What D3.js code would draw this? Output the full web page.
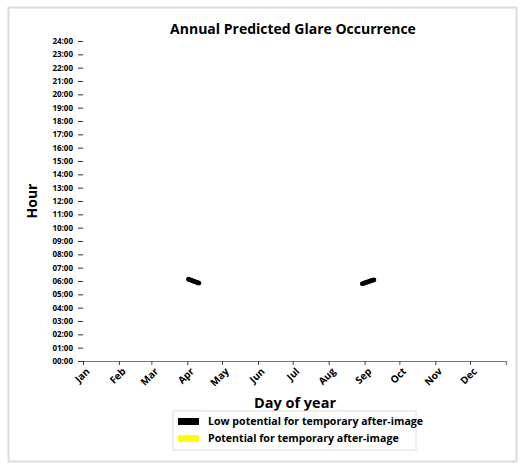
<!DOCTYPE html>
<html>
<head>
<meta charset="utf-8">
<script src="https://cdn.jsdelivr.net/npm/d3@7"></script>
<style>
  body { margin: 0; background: #fff; }
  text { font-family: "Open Sans", sans-serif; }
</style>
</head>
<body>
<div id="chart"></div>
<script>
// month tick labels and the day of year each month starts on
var months = ["Jan", "Feb", "Mar", "Apr", "May", "Jun", "Jul", "Aug", "Sep", "Oct", "Nov", "Dec"];
var monthStartDay = [0, 31, 59, 90, 120, 151, 181, 212, 243, 273, 304, 334];

// hours shown on the y axis
var hourTicks = d3.range(0, 25);

// glare occurrences (day of year, hour)
var lowDays = [91, 92, 93, 94, 95, 96, 97, 98, 99, 100,
               241, 242, 243, 244, 245, 246, 247, 248, 249, 250, 251];
var lowHours = [6.13, 6.10, 6.07, 6.03, 6.00, 5.97, 5.93, 5.90, 5.87, 5.84,
                5.79, 5.82, 5.85, 5.88, 5.91, 5.94, 5.97, 6.00, 6.03, 6.05, 6.08];
var highDays = [];
var highHours = [];

var legendLabels = ["Low potential for temporary after-image", "Potential for temporary after-image"];
var legendColors = ["#000000", "#ffff00"];

var W = 521, H = 466;
var margin = {top: 41, right: 15, bottom: 105, left: 83},
    width = 506 - margin.left,
    height = 361 - margin.top;

var root = d3.select("#chart")
    .append("svg")
    .attr("width", W)
    .attr("height", H);

// figure frame
root.append("rect")
    .attr("x", 8.5).attr("y", 7.5)
    .attr("width", 508).attr("height", 454)
    .attr("fill", "#fff")
    .attr("stroke", "#dcdcdc")
    .attr("stroke-width", 2);

var svg = root.append("g")
    .attr("transform", "translate(" + margin.left + "," + margin.top + ")");

// title
svg.append("text")
    .attr("x", 210)
    .attr("y", 34 - margin.top)
    .attr("text-anchor", "middle")
    .style("font-size", "14px")
    .style("font-weight", "bold")
    .text("Annual Predicted Glare Occurrence");

var x = d3.scaleLinear()
    .domain([0, 365])
    .range([0, width]);

var y = d3.scaleLinear()
    .domain([0, 24])
    .range([height, 0]);

// X axis
var xAxis = svg.append("g")
    .attr("transform", "translate(0," + height + ")")
    .call(d3.axisBottom(x)
        .tickValues(monthStartDay)
        .tickSize(4)
        .tickFormat(function(d, i) { return months[i]; }));
xAxis.select(".domain").attr("stroke", "#777").attr("stroke-width", 1.2);
xAxis.selectAll(".tick line").attr("stroke", "#444");
xAxis.selectAll("text")
    .attr("x", 0).attr("y", 0).attr("dy", 0)
    .attr("transform", "translate(7,11)rotate(-45)")
    .style("text-anchor", "end")
    .style("font-size", "10px")
    .style("font-weight", "bold")
    .attr("fill", "#000");

// Y axis
var yAxis = svg.append("g")
    .call(d3.axisLeft(y)
        .tickValues(hourTicks)
        .tickSize(5)
        .tickPadding(5)
        .tickFormat(function(d) { return d3.format("02d")(d) + ":00"; }));
yAxis.select(".domain").remove();
yAxis.selectAll(".tick line").attr("stroke", "#333");
yAxis.selectAll("text")
    .style("font-size", "8px")
    .style("font-weight", "bold")
    .attr("fill", "#000");

// axis titles
svg.append("text")
    .attr("transform", "rotate(-90)")
    .attr("x", -height / 2)
    .attr("y", 37 - margin.left)
    .attr("text-anchor", "middle")
    .style("font-size", "14px")
    .style("font-weight", "bold")
    .text("Hour");

svg.append("text")
    .attr("x", 212)
    .attr("y", 408 - margin.top)
    .attr("text-anchor", "middle")
    .style("font-size", "14.5px")
    .style("font-weight", "bold")
    .text("Day of year");

// glare points
svg.append("g")
    .selectAll("circle.low")
    .data(lowDays)
    .enter()
    .append("circle")
    .attr("cx", function(d) { return x(d); })
    .attr("cy", function(d, i) { return y(lowHours[i]); })
    .attr("r", 2.4)
    .attr("fill", legendColors[0]);

svg.append("g")
    .selectAll("circle.high")
    .data(highDays)
    .enter()
    .append("circle")
    .attr("cx", function(d) { return x(d); })
    .attr("cy", function(d, i) { return y(highHours[i]); })
    .attr("r", 2.4)
    .attr("fill", legendColors[1]);

// legend
var legend = root.append("g")
    .attr("transform", "translate(173,411)");
legend.append("rect")
    .attr("width", 243).attr("height", 39)
    .attr("fill", "#fff")
    .attr("stroke", "#ddd");
legend.selectAll("rect.sw")
    .data(legendLabels)
    .enter()
    .append("rect")
    .attr("class", "sw")
    .attr("x", 5)
    .attr("y", function(d, i) { return 7 + i * 17; })
    .attr("width", 21)
    .attr("height", 7)
    .attr("fill", function(d, i) { return legendColors[i]; });
legend.selectAll("text")
    .data(legendLabels)
    .enter()
    .append("text")
    .attr("x", 35)
    .attr("y", function(d, i) { return 13.5 + i * 17; })
    .style("font-size", "10.6px")
    .style("font-weight", "bold")
    .text(function(d) { return d; });
</script>
</body>
</html>
